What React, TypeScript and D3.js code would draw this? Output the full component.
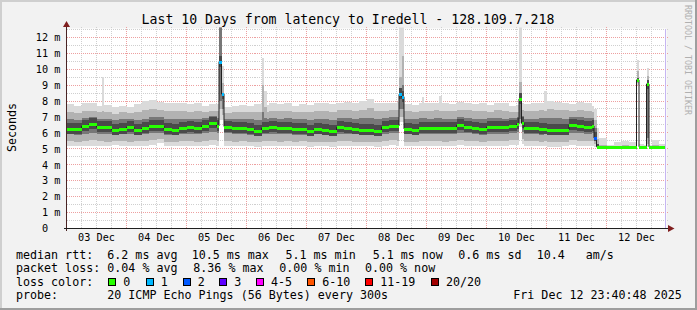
import React, { useEffect } from 'react';
import * as d3 from 'd3';

// ---------- data ----------
// Smoke / median per 3-hour bin, starting 03 Dec 00:00 UTC (80 bins = 10 days)
const binMedian = [
  6.27, 6.24, 6.42, 6.56, 6.36, 6.35, 6.2, 6.27, 6.36, 6.2,
  6.28, 6.45, 6.43, 6.22, 6.2, 6.3, 6.35, 6.33, 6.45, 6.6,
  6.43, 6.4, 6.3, 6.3, 6.25, 6.12, 6.3, 6.35, 6.3, 6.3,
  6.22, 6.22, 6.12, 6.25, 6.2, 6.12, 6.34, 6.3, 6.25, 6.2,
  6.2, 6.13, 6.35, 6.43, 6.43, 6.25, 6.2, 6.3, 6.32, 6.3,
  6.28, 6.3, 6.48, 6.4, 6.3, 6.22, 6.37, 6.35, 6.34, 6.45,
  6.55, 6.28, 6.28, 6.25, 6.2, 6.18, 6.18, 6.5, 6.45, 6.37,
  6.43, 5.13, 5.13, 5.13, 5.13, 5.13, 5.13, 5.13, 5.13, 5.13,
];
const binMin = [
  5.18, 5.15, 5.15, 5.2, 5.15, 5.17, 5.22, 5.15, 5.15, 5.18,
  5.15, 5.25, 5.35, 5.2, 5.15, 5.18, 5.15, 5.15, 5.2, 5.22,
  5.2, 5.15, 5.15, 5.18, 5.15, 5.12, 5.15, 5.18, 5.15, 5.2,
  5.15, 5.15, 5.12, 5.18, 5.15, 5.12, 5.2, 5.15, 5.15, 5.18,
  5.15, 5.12, 5.2, 5.22, 5.2, 5.15, 5.15, 5.18, 5.15, 5.2,
  5.15, 5.18, 5.22, 5.2, 5.15, 5.15, 5.2, 5.18, 5.15, 5.22,
  5.25, 5.15, 5.18, 5.15, 5.12, 5.12, 5.15, 5.22, 5.2, 5.18,
  5.2, 5.05, 5.05, 5.05, 5.05, 5.05, 5.05, 5.05, 5.05, 5.05,
];
const binP10 = [
  5.5, 5.45, 5.5, 5.55, 5.48, 5.45, 5.5, 5.48, 5.45, 5.5,
  5.48, 5.55, 5.6, 5.45, 5.45, 5.48, 5.48, 5.45, 5.5, 5.55,
  5.52, 5.48, 5.45, 5.48, 5.45, 5.4, 5.48, 5.5, 5.45, 5.5,
  5.45, 5.48, 5.4, 5.45, 5.45, 5.4, 5.5, 5.48, 5.45, 5.45,
  5.45, 5.4, 5.5, 5.55, 5.52, 5.45, 5.45, 5.5, 5.48, 5.5,
  5.45, 5.48, 5.55, 5.52, 5.48, 5.45, 5.5, 5.48, 5.48, 5.55,
  5.55, 5.48, 5.48, 5.45, 5.42, 5.4, 5.45, 5.55, 5.52, 5.5,
  5.5, 5.08, 5.08, 5.08, 5.08, 5.08, 5.08, 5.08, 5.08, 5.08,
];
const binP25 = [
  5.9, 5.88, 5.95, 6.0, 5.92, 5.9, 5.85, 5.9, 5.92, 5.85,
  5.9, 6.0, 6.0, 5.88, 5.85, 5.92, 5.95, 5.92, 6.0, 6.05,
  6.0, 5.98, 5.92, 5.9, 5.88, 5.8, 5.92, 5.95, 5.92, 5.92,
  5.88, 5.88, 5.8, 5.9, 5.85, 5.8, 5.95, 5.92, 5.9, 5.88,
  5.85, 5.8, 5.95, 6.0, 6.0, 5.9, 5.85, 5.92, 5.92, 5.92,
  5.9, 5.92, 6.02, 5.98, 5.92, 5.88, 5.95, 5.95, 5.92, 6.0,
  6.05, 5.92, 5.9, 5.88, 5.85, 5.85, 5.85, 6.02, 6.0, 5.95,
  5.98, 5.1, 5.1, 5.1, 5.1, 5.1, 5.1, 5.1, 5.1, 5.1,
];
const binP75 = [
  6.85, 6.8, 6.95, 7.0, 6.9, 6.88, 6.8, 6.85, 6.88, 6.8,
  6.9, 7.0, 6.98, 6.85, 6.85, 6.9, 6.9, 6.9, 6.95, 7.05,
  6.95, 6.9, 6.85, 6.88, 6.85, 6.8, 6.88, 6.92, 6.9, 6.92,
  6.85, 6.88, 6.8, 6.9, 6.88, 6.8, 6.95, 6.95, 6.9, 6.92,
  6.95, 6.85, 6.92, 6.98, 6.98, 6.88, 6.85, 6.92, 6.9, 6.92,
  6.9, 6.9, 7.0, 6.95, 6.88, 6.85, 6.95, 6.92, 6.9, 6.95,
  7.0, 6.9, 6.9, 6.92, 6.95, 6.92, 6.9, 7.0, 7.0, 6.95,
  6.95, 5.16, 5.16, 5.16, 5.16, 5.16, 5.16, 5.16, 5.16, 5.16,
];
const binP90 = [
  7.3, 7.25, 7.4, 7.4, 7.3, 7.3, 7.2, 7.28, 7.25, 7.3,
  7.45, 7.5, 7.45, 7.4, 7.38, 7.35, 7.32, 7.35, 7.3, 7.4,
  7.35, 7.22, 7.28, 7.3, 7.28, 7.3, 7.3, 7.4, 7.35, 7.38,
  7.28, 7.32, 7.28, 7.4, 7.38, 7.3, 7.42, 7.45, 7.4, 7.45,
  7.55, 7.4, 7.38, 7.42, 7.45, 7.35, 7.3, 7.4, 7.38, 7.42,
  7.38, 7.35, 7.45, 7.42, 7.35, 7.38, 7.3, 7.42, 7.38, 7.3,
  7.32, 7.35, 7.38, 7.42, 7.5, 7.45, 7.42, 7.38, 7.45, 7.4,
  7.3, 5.22, 5.18, 5.2, 5.22, 5.2, 5.18, 5.18, 5.22, 5.18,
];
const binMax = [
  7.8, 7.7, 7.9, 7.85, 7.7, 7.75, 7.6, 7.7, 7.65, 7.8,
  8.0, 8.05, 7.95, 7.9, 7.85, 7.85, 7.8, 7.85, 7.7, 7.8,
  7.8, 7.6, 7.7, 7.75, 7.7, 7.8, 7.75, 7.9, 7.8, 7.85,
  7.7, 7.8, 7.75, 7.9, 7.85, 7.8, 7.9, 7.95, 7.9, 8.0,
  8.1, 7.9, 7.85, 7.9, 7.95, 7.8, 7.75, 7.9, 7.85, 7.9,
  7.85, 7.8, 7.95, 7.9, 7.8, 7.85, 7.75, 7.9, 7.85, 7.7,
  7.75, 7.8, 7.85, 7.9, 8.0, 7.95, 7.9, 7.8, 7.95, 7.85,
  7.7, 5.68, 5.25, 5.45, 5.5, 5.45, 5.3, 5.25, 5.55, 5.3,
];

// Single-hour samples that differ from their bin (spikes, loss events)
const spikeHour =   [14, 61, 62, 78, 79, 133, 134, 142, 149, 181, 182, 191, 211, 212, 228, 232];
const spikeMedian = [6.35, 10.45, 8.44, 6.3, 6.3, 8.42, 8.27, 6.3, 6.3, 8.13, 6.6, 6.25, 5.68, 5.13, 9.32, 9.07];
const spikeLoss =   [0, 1, 1, 0, 0, 1, 1, 0, 0, 0, 0, 0, 2, 0, 0, 0];
const spikeMin =    [5.15, 6.8, 6.8, 5.15, 5.15, 6.7, 6.7, 5.15, 5.15, 6.4, 5.3, 5.15, 5.1, 5.05, 9.0, 5.1];
const spikeP10 =    [5.5, 7.5, 7.1, 5.5, 5.5, 7.0, 7.0, 5.48, 5.48, 6.6, 5.6, 5.48, 5.3, 5.08, 9.1, 5.3];
const spikeP25 =    [5.92, 8.0, 7.5, 5.92, 5.92, 7.5, 7.5, 5.92, 5.92, 6.9, 6.05, 5.9, 5.5, 5.1, 9.2, 5.7];
const spikeP75 =    [6.9, 14.0, 8.3, 7.3, 6.95, 8.8, 9.0, 6.92, 6.92, 8.5, 7.05, 6.92, 6.3, 5.3, 9.45, 9.3];
const spikeP90 =    [7.35, 14.0, 9.1, 9.0, 7.6, 9.5, 10.8, 7.4, 7.4, 9.2, 7.45, 7.4, 6.8, 5.6, 9.9, 9.6];
const spikeMax =    [9.5, 14.0, 10.2, 10.7, 8.6, 14.0, 14.0, 8.27, 8.3, 14.0, 7.9, 8.65, 7.5, 6.3, 10.6, 10.1];

const lossLabels = ['0', '1', '2', '3', '4-5', '6-10', '11-19', '20/20'];
const lossColors = ['#26ff00', '#00b8ff', '#0059ff', '#5e00ff', '#ff00ff', '#ff5500', '#ff0000', '#a10000'];

const yTickValues = [0, 1, 2, 3, 4, 5, 6, 7, 8, 9, 10, 11, 12];
const yTickLabels = ['0  ', '1 m', '2 m', '3 m', '4 m', '5 m', '6 m', '7 m', '8 m', '9 m', '10 m', '11 m', '12 m'];

const titleText = 'Last 10 Days from latency to Iredell - 128.109.7.218';
const yAxisTitle = 'Seconds';
const watermark = 'RRDTOOL / TOBI OETIKER';

const legendRow1 = ['median rtt:', '6.2 ms avg', '10.5 ms max', '5.1 ms min', '5.1 ms now', '0.6 ms sd', '10.4   am/s'];
const legendRow2 = ['packet loss:', '0.04 % avg', '8.36 % max', '0.00 % min', '0.00 % now'];
const legendRow3 = ['loss color:'];
const legendRow4 = ['probe:', '20 ICMP Echo Pings (56 Bytes) every 300s', 'Fri Dec 12 23:40:48 2025'];

// ---------- layout ----------
const W = 697, H = 310;
const PLOT_L = 66.5, PLOT_R = 666.5, PLOT_T = 28.5, PLOT_B = 228.5;
const HOUR = 3600e3;
const BIN_HOURS = 3;
const START = Date.UTC(2025, 11, 3);
const END = Date.UTC(2025, 11, 13);
const LAST = Date.UTC(2025, 11, 12, 23, 40, 48);
const FONT = '"DejaVu Sans Mono", monospace';

const row1X = [16, 107.3, 191.7, 285.5, 372.7, 458.3, 536.7];
const row2X = [16, 107.3, 193.3, 279.3, 365];
const row4X = [16, 107.3, 513.3];
const swatchX = [108.3, 145.7, 182.7, 219.3, 256, 307.3, 365.3, 431];
const rowY = [258.5, 272.1, 285.7, 299.3];

const MINOR_GRID = '#cfcfcf';
const MAJOR_GRID = '#eda0a0';

export default function App() {
  useEffect(() => {
    document.body.style.margin = '0';
  }, []);

  const x = d3.scaleUtc().domain([new Date(START), new Date(END)]).range([PLOT_L, PLOT_R]);
  const y = d3.scaleLinear().domain([0, 12.55]).range([PLOT_B, PLOT_T]);
  const yc = (v: number) => Math.round(y(v) - 0.5) + 0.5;

  const nHours = binMedian.length * BIN_HOURS;
  const rows = d3.range(nHours).map((h) => {
    const k = spikeHour.indexOf(h);
    const b = Math.floor(h / BIN_HOURS);
    const pick = (sp: number[], bn: number[]) => (k >= 0 ? sp[k] : bn[b]);
    return {
      t: new Date(START + h * HOUR),
      t1: new Date(Math.min(START + (h + 1) * HOUR, LAST)),
      med: pick(spikeMedian, binMedian),
      loss: k >= 0 ? spikeLoss[k] : 0,
      mn: pick(spikeMin, binMin),
      p10: pick(spikeP10, binP10),
      p25: pick(spikeP25, binP25),
      p75: pick(spikeP75, binP75),
      p90: pick(spikeP90, binP90),
      mx: pick(spikeMax, binMax),
    };
  });
  const last = rows[rows.length - 1];
  const pts = [...rows, { ...last, t: last.t1 }];

  const band = (lo: string, hi: string) =>
    d3
      .area<any>()
      .x((d) => x(d.t))
      .y0((d) => y(d[lo]))
      .y1((d) => y(d[hi]))
      .curve(d3.curveStepAfter)(pts) || '';

  // darker core hugging the median (smokeping's innermost smoke shades)
  const corePath =
    d3
      .area<any>()
      .x((d) => x(d.t))
      .y0((d) => Math.min(y(d.p25), y(d.med) + 5))
      .y1((d) => Math.max(y(d.p75), y(d.med) - 6))
      .curve(d3.curveStepAfter)(pts) || '';

  const medianPath =
    d3
      .line<any>()
      .x((d) => x(d.t))
      .y((d) => y(d.med))
      .curve(d3.curveStepAfter)(pts) || '';

  const minorX = d3
    .utcHour.every(6)!
    .range(new Date(START), new Date(END))
    .filter((d) => d.getUTCHours() !== 0);
  const majorX = d3.utcDay.range(new Date(START + 1), new Date(END));
  const minorY = d3.range(0.5, 12.55, 1);
  const majorY = d3.range(1, 13, 1);
  const dayLabels = d3.utcDay.range(new Date(START), new Date(END));
  const fmtDay = d3.utcFormat('%d %b');
  const lastX = Math.round(x(new Date(LAST))) - 0.5;

  return (
    <svg
      width={W}
      height={H}
      viewBox={`0 0 ${W} ${H}`}
      style={{ display: 'block', position: 'absolute', left: 0, top: 0 }}
      fontFamily={FONT}
    >
      <defs>
        <clipPath id="plotClip">
          <rect x={PLOT_L} y={PLOT_T - 1} width={PLOT_R - PLOT_L} height={PLOT_B - PLOT_T + 1} />
        </clipPath>
      </defs>
      {/* background + 3D frame */}
      <rect x={0} y={0} width={W} height={H} fill="#f2f2f2" />
      <rect x={0} y={0} width={W} height={2} fill="#cfcfcf" />
      <rect x={0} y={0} width={2} height={H} fill="#cfcfcf" />
      <rect x={0} y={H - 2} width={W} height={2} fill="#9e9e9e" />
      <rect x={W - 2} y={0} width={2} height={H} fill="#9e9e9e" />

      {/* canvas */}
      <rect x={PLOT_L} y={PLOT_T} width={PLOT_R - PLOT_L} height={PLOT_B - PLOT_T} fill="#ffffff" />

      {/* grid */}
      <g strokeDasharray="1,1" shapeRendering="crispEdges">
        {minorX.map((d, i) => (
          <line key={'mx' + i} x1={x(d)} x2={x(d)} y1={PLOT_T - 2} y2={PLOT_B} stroke={MINOR_GRID} />
        ))}
        {minorY.map((v, i) => (
          <line key={'my' + i} x1={PLOT_L} x2={PLOT_R + 2} y1={yc(v)} y2={yc(v)} stroke={MINOR_GRID} />
        ))}
        {majorX.map((d, i) => (
          <line key={'Mx' + i} x1={x(d)} x2={x(d)} y1={PLOT_T - 2} y2={PLOT_B} stroke={MAJOR_GRID} />
        ))}
        {majorY.map((v, i) => (
          <line key={'My' + i} x1={PLOT_L} x2={PLOT_R + 2} y1={yc(v)} y2={yc(v)} stroke={MAJOR_GRID} />
        ))}
      </g>

      {/* smoke */}
      <g clipPath="url(#plotClip)" shapeRendering="crispEdges">
        <path d={band('mn', 'mx')} fill="#dadada" />
        <path d={band('p10', 'p90')} fill="#b2b2b2" />
        <path d={band('p25', 'p75')} fill="#777777" />
        <path d={corePath} fill="#4a4a4a" />
      </g>

      {/* median line + loss-coloured band */}
      <g clipPath="url(#plotClip)">
        <path d={medianPath} fill="none" stroke="#202020" strokeWidth={1} />
        <g shapeRendering="crispEdges">
          {rows.map((r, i) => (
            <rect
              key={i}
              x={x(r.t)}
              width={x(r.t1) - x(r.t)}
              y={Math.round(y(r.med)) - 1.5}
              height={3}
              fill={lossColors[r.loss]}
            />
          ))}
        </g>
      </g>

      {/* last-update rule */}
      <line x1={lastX} x2={lastX} y1={PLOT_T} y2={PLOT_B} stroke="#c6b6f2" shapeRendering="crispEdges" />

      {/* axes */}
      <g shapeRendering="crispEdges">
        <line x1={PLOT_L} x2={PLOT_L} y1={PLOT_B + 2} y2={25} stroke="#4a2424" />
        <line x1={PLOT_L - 3} x2={668} y1={PLOT_B} y2={PLOT_B} stroke="#1f1f1f" />
      </g>
      <polygon points={`${PLOT_L - 3.5},27 ${PLOT_L + 3.5},27 ${PLOT_L},21`} fill="#801f1f" />
      <polygon points={`668,225 668,232 674.5,${PLOT_B}`} fill="#801f1f" />

      {/* y tick labels */}
      <g fontSize={10.2} fill="#000" textAnchor="end">
        {yTickValues.map((v, i) => (
          <text key={i} x={60.3} y={y(v) + 3.8} xmlSpace="preserve">
            {yTickLabels[i]}
          </text>
        ))}
      </g>
      {/* x tick labels */}
      <g fontSize={10.2} fill="#000" textAnchor="middle">
        {dayLabels.map((d, i) => (
          <text key={i} x={x(d3.utcHour.offset(d, 12))} y={240.7}>
            {fmtDay(d)}
          </text>
        ))}
      </g>

      {/* title */}
      <text x={348} y={24} fontSize={13.2} textAnchor="middle" fill="#000">
        {titleText}
      </text>
      {/* y axis title */}
      <text transform="translate(15.5,127.5) rotate(-90)" fontSize={11.66} textAnchor="middle" fill="#000">
        {yAxisTitle}
      </text>
      {/* watermark */}
      <text transform="translate(685,5) rotate(90)" fontSize={8.3} fill="#b0b0b0">
        {watermark}
      </text>

      {/* legend */}
      <g fontSize={11.66} fill="#000">
        {legendRow1.map((s, i) => (
          <text key={'r1' + i} x={row1X[i]} y={rowY[0]} xmlSpace="preserve">{s}</text>
        ))}
        {legendRow2.map((s, i) => (
          <text key={'r2' + i} x={row2X[i]} y={rowY[1]} xmlSpace="preserve">{s}</text>
        ))}
        <text x={16} y={rowY[2]}>{legendRow3[0]}</text>
        {lossLabels.map((s, i) => (
          <g key={'lc' + i}>
            <rect x={swatchX[i] + 0.5} y={278.5} width={7} height={7} fill={lossColors[i]} stroke="#000" shapeRendering="crispEdges" />
            <text x={swatchX[i] + 15} y={rowY[2]}>{s}</text>
          </g>
        ))}
        {legendRow4.map((s, i) => (
          <text key={'r4' + i} x={row4X[i]} y={rowY[3]} xmlSpace="preserve">{s}</text>
        ))}
      </g>
    </svg>
  );
}
